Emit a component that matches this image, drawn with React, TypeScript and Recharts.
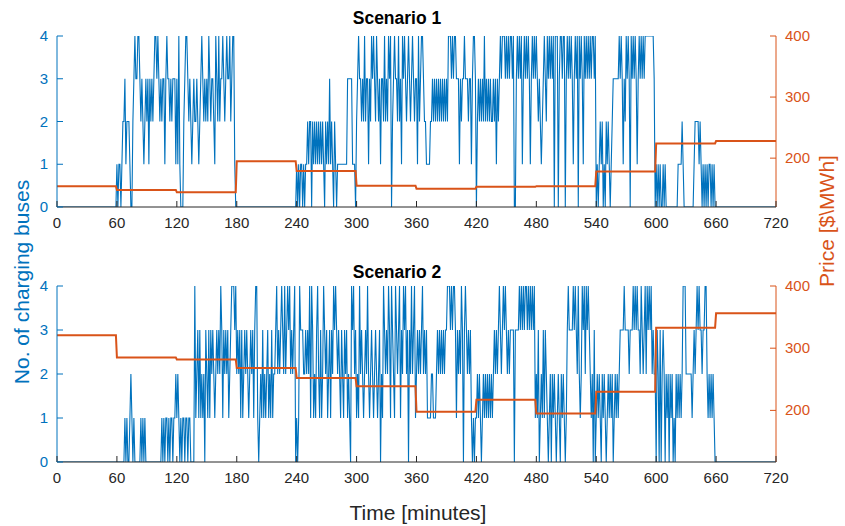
import React from 'react';
import { ComposedChart, Line, XAxis, YAxis } from 'recharts';

const BLUE = '#0072BD';
const ORANGE = '#D95319';
const DARK = '#262626';
const FONT = '"Liberation Sans", Arial, Helvetica, sans-serif';

const timeTicks = [0, 60, 120, 180, 240, 300, 360, 420, 480, 540, 600, 660, 720];
const busTicks = [0, 1, 2, 3, 4];
const priceTicks = [200, 300, 400];

// hourly electricity price [$/MWh]
const scenario1Price = [154, 148, 144, 195, 179, 155, 150, 153, 154, 178, 224, 228];
const scenario2Price = [321, 285, 282, 268, 252, 239, 198, 217, 195, 230, 333, 356];

// number of charging buses, one digit per minute (one string per hour)
const scenario1Buses = [
  '0000000000 0000000000 0000000000 0000000000 0000000000 0000000000',
  '1011012231 2221002343 3443232123 2313232344 3432323313 4332323331',
  '3141000234 4323212322 3212343232 3243233214 3242334323 4334234410',
  '0000000000 0000000000 0000000000 0000000000 0000000000 0000000000',
  '1010110101 1212202121 2121212102 1213121021 0111111111 1333331110',
  '2343323242 3313243432 4323133242 3243402343 3242314343 2343234323',
  '3142344322 1111223232 3232323232 3244434344 3331323343 3323313443',
  '0232323242 3232322323 1323434443 4343443400 3434341343 4343134343',
  '4323212343 2434343404 4403443440 3434343134 3404343143 4343434434',
  '0101212010 2121012333 3334343132 4343043434 3134343434 4444444430',
  '1010100101 0000000000 0011112100 0000000012 2221210101 0101101010',
  '0000000000 0000000000 0000000000 0000000000 0000000000 0000000000',
];

const scenario2Buses = [
  '0000000000 0000000000 0000000000 0000000000 0000000000 0000000000',
  '0000000010 1001210100 0000101010 0000000000 0000010101 1010110112',
  '1210101101 1011000041 2313121203 2131323212 3232431323 2312344434',
  '2323131232 3212323134 4101213121 2312131223 4232343242 3434232340',
  '1014333223 2324143121 3421312432 3123132434 3232132132 3121043423',
  '1214232123 2421232123 2123021432 3243143214 3234132434 2303242341',
  '2323234232 3111122111 2323232323 3444343443 1323243034 3232310101',
  '1212101212 1212121232 3234323434 3232333303 3334343434 4343434341',
  '2130121313 2101202121 0121021210 1343333434 3242124342 4343212030',
  '1212102121 0121212012 1212333343 3332333434 3433243234 2434342322',
  '0320302320 2120212010 2121212444 2222221232 3434332334 4212121210',
  '0000000000 0000000000 0000000000 0000000000 0000000000 0000000000',
];

function buildData(buses: string[], prices: number[]) {
  const digits = buses.join('').replace(/\s/g, '');
  const rows: { t: number; buses: number; price: number }[] = [];
  for (let t = 0; t <= 720; t++) {
    rows.push({
      t,
      buses: t < digits.length ? Number(digits[t]) : 0,
      price: prices[Math.min(prices.length - 1, Math.floor(t / 60))],
    });
  }
  return rows;
}

const data1 = buildData(scenario1Buses, scenario1Price);
const data2 = buildData(scenario2Buses, scenario2Price);

const XTick = (props: any) => {
  const { x, y, payload } = props;
  return (
    <g>
      <line x1={x} x2={x} y1={y} y2={y - 6} stroke={DARK} strokeWidth={1} />
      <text x={x} y={y + 21} textAnchor="middle" fill={DARK} fontSize={15} fontFamily={FONT}>
        {payload.value}
      </text>
    </g>
  );
};

const TopTick = (props: any) => {
  const { x, y } = props;
  return <line x1={x} x2={x} y1={y} y2={y + 6} stroke={DARK} strokeWidth={1} />;
};

const LeftTick = (props: any) => {
  const { x, y, payload } = props;
  return (
    <g>
      <line x1={x} x2={x + 6} y1={y} y2={y} stroke={BLUE} strokeWidth={1} />
      <text x={x - 9} y={y + 5} textAnchor="end" fill={BLUE} fontSize={15} fontFamily={FONT}>
        {payload.value}
      </text>
    </g>
  );
};

const RightTick = (props: any) => {
  const { x, y, payload } = props;
  return (
    <g>
      <line x1={x} x2={x - 6} y1={y} y2={y} stroke={ORANGE} strokeWidth={1} />
      <text x={x + 9} y={y + 5} textAnchor="start" fill={ORANGE} fontSize={15} fontFamily={FONT}>
        {payload.value}
      </text>
    </g>
  );
};

function Panel(props: {
  data: any[];
  top: number;
  height: number;
  margin: { top: number; right: number; bottom: number; left: number };
  xHeight: number;
  priceDomain: [number, number];
}) {
  const { data, top, height, margin, xHeight, priceDomain } = props;
  return (
    <div style={{ position: 'absolute', left: 0, top, width: 845, height }}>
      <ComposedChart width={845} height={height} data={data} margin={margin}>
        <XAxis
          dataKey="t"
          type="number"
          domain={[0, 720]}
          ticks={timeTicks}
          interval={0}
          height={xHeight}
          tickSize={0}
          tickMargin={0}
          tickLine={false}
          tick={XTick}
          axisLine={{ stroke: DARK, strokeWidth: 1 }}
          allowDataOverflow
        />
        <XAxis
          xAxisId="top"
          orientation="top"
          dataKey="t"
          type="number"
          domain={[0, 720]}
          ticks={timeTicks}
          interval={0}
          height={0}
          tickSize={0}
          tickMargin={0}
          tickLine={false}
          tick={TopTick}
          axisLine={{ stroke: DARK, strokeWidth: 1 }}
          allowDataOverflow
        />
        <YAxis
          yAxisId="left"
          orientation="left"
          domain={[0, 4]}
          ticks={busTicks}
          interval={0}
          width={30}
          tickSize={0}
          tickMargin={0}
          tickLine={false}
          tick={LeftTick}
          axisLine={{ stroke: BLUE, strokeWidth: 1 }}
          allowDataOverflow
        />
        <YAxis
          yAxisId="right"
          orientation="right"
          domain={priceDomain}
          ticks={priceTicks}
          interval={0}
          width={45}
          tickSize={0}
          tickMargin={0}
          tickLine={false}
          tick={RightTick}
          axisLine={{ stroke: ORANGE, strokeWidth: 1 }}
          allowDataOverflow
        />
        <Line
          yAxisId="left"
          type="linear"
          dataKey="buses"
          stroke={BLUE}
          strokeWidth={1.1}
          dot={false}
          activeDot={false}
          isAnimationActive={false}
        />
        <Line
          yAxisId="right"
          type="linear"
          dataKey="price"
          stroke={ORANGE}
          strokeWidth={2}
          dot={false}
          activeDot={false}
          isAnimationActive={false}
        />
      </ComposedChart>
    </div>
  );
}

export default function App() {
  return (
    <div
      style={{
        position: 'absolute',
        left: 0,
        top: 0,
        width: 845,
        height: 526,
        background: '#ffffff',
        fontFamily: FONT,
      }}
    >
      <Panel
        data={data1}
        top={0}
        height={240}
        margin={{ top: 36, right: 24, bottom: 8, left: 27 }}
        xHeight={25}
        priceDomain={[120, 400]}
      />
      <Panel
        data={data2}
        top={250}
        height={276}
        margin={{ top: 36, right: 24, bottom: 34, left: 27 }}
        xHeight={30}
        priceDomain={[117, 400]}
      />
      <svg
        width={845}
        height={526}
        style={{ position: 'absolute', left: 0, top: 0, pointerEvents: 'none' }}
      >
        <text x={397} y={24} textAnchor="middle" fontSize={17.5} fontWeight="bold" fill="#000" fontFamily={FONT}>
          Scenario 1
        </text>
        <text x={397} y={278} textAnchor="middle" fontSize={17.5} fontWeight="bold" fill="#000" fontFamily={FONT}>
          Scenario 2
        </text>
        <text x={418} y={520} textAnchor="middle" fontSize={21} fill={DARK} fontFamily={FONT}>
          Time [minutes]
        </text>
        <text
          x={0}
          y={0}
          transform="translate(29,282) rotate(-90)"
          textAnchor="middle"
          fontSize={21}
          fill={BLUE}
          fontFamily={FONT}
        >
          No. of charging buses
        </text>
        <text
          x={0}
          y={0}
          transform="translate(834,221) rotate(-90)"
          textAnchor="middle"
          fontSize={21}
          fill={ORANGE}
          fontFamily={FONT}
        >
          {'Price [$\\MWh]'}
        </text>
      </svg>
    </div>
  );
}
